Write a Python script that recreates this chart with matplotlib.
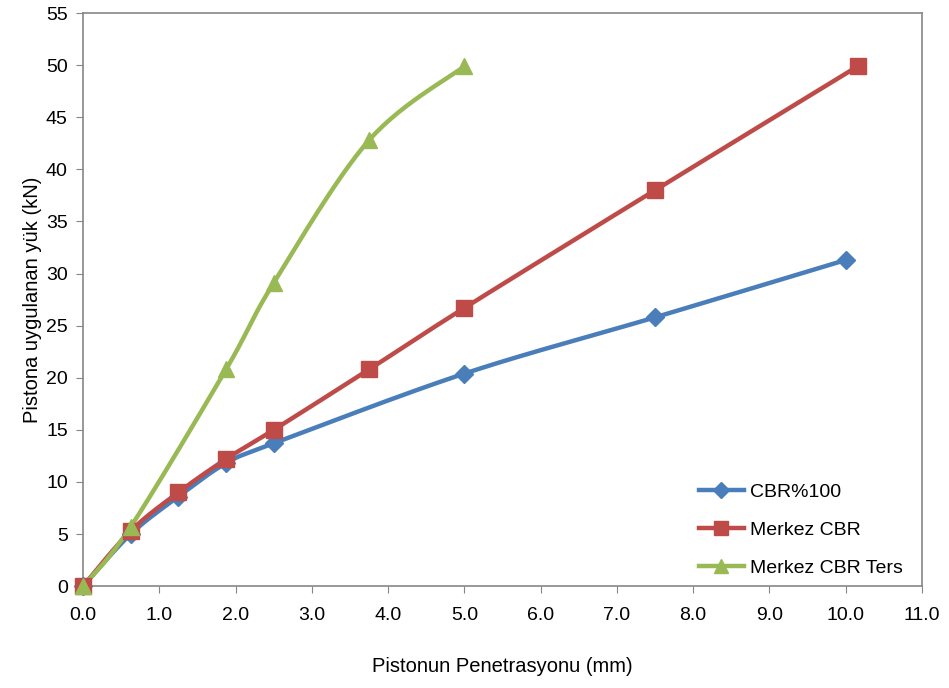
import numpy as np
import matplotlib.pyplot as plt

plt.rcParams['font.family'] = ['Liberation Sans', 'DejaVu Sans']

# penetration (mm) and piston load (kN)
x_cbr100 = [0.0, 0.625, 1.25, 1.875, 2.5, 5.0, 7.5, 10.0]
y_cbr100 = [0.0, 5.0, 8.6, 11.8, 13.7, 20.4, 25.8, 31.3]

x_merkez = [0.0, 0.625, 1.25, 1.875, 2.5, 3.75, 5.0, 7.5, 10.16]
y_merkez = [0.0, 5.3, 9.0, 12.2, 15.0, 20.8, 26.7, 38.0, 49.9]

x_ters = [0.0, 0.625, 1.875, 2.5, 3.75, 5.0]
y_ters = [0.0, 5.7, 20.8, 29.1, 42.8, 49.9]

xticks = np.arange(0, 11.5, 1.0)
yticks = np.arange(0, 56, 5)


def smooth(xs, ys, xr=11.0, yr=55.0, n=30):
    # bezier smoothing like spreadsheet "smoothed line", done in axis-fraction space
    p = np.column_stack([np.asarray(xs) / xr, np.asarray(ys) / yr * 0.68])
    pts = [p[0]]
    for i in range(len(p) - 1):
        p0 = p[i - 1] if i > 0 else p[i]
        p1, p2 = p[i], p[i + 1]
        p3 = p[i + 2] if i + 2 < len(p) else p[i + 1]
        c1 = p1 + (p2 - p0) / 6
        c2 = p2 - (p3 - p1) / 6
        t = np.linspace(0, 1, n)[1:, None]
        seg = ((1 - t) ** 3) * p1 + 3 * ((1 - t) ** 2) * t * c1 + 3 * (1 - t) * t ** 2 * c2 + t ** 3 * p2
        pts.extend(seg)
    pts = np.array(pts)
    return pts[:, 0] * xr, pts[:, 1] / 0.68 * yr


fig = plt.figure(figsize=(9.49, 6.88), dpi=100)
ax = fig.add_axes([0.0875, 0.148, 0.884, 0.833])

series = [
    (x_cbr100, y_cbr100, '#4A7EBB', 'D', 9, 'CBR%100'),
    (x_merkez, y_merkez, '#BE4B48', 's', 11, 'Merkez CBR'),
    (x_ters, y_ters, '#98B954', '^', 11, 'Merkez CBR Ters'),
]
for xs, ys, c, m, ms, lab in series:
    sx, sy = smooth(xs, ys)
    ax.plot(sx, sy, color=c, lw=3.2, solid_capstyle='round', zorder=3)
    ax.plot(xs, ys, linestyle='none', marker=m, ms=ms, color=c, zorder=4, clip_on=False)
    ax.plot([], [], color=c, lw=3.2, marker=m, ms=ms * 0.9, label=lab)

ax.set_xlim(0, 11)
ax.set_ylim(0, 55)
ax.set_xticks(xticks)
ax.set_xticklabels([f'{v:.1f}' for v in xticks])
ax.set_yticks(yticks)
ax.tick_params(direction='out', length=5, color='#868686', labelsize=14, pad=6)
ax.tick_params(axis='x', pad=10)
for s in ax.spines.values():
    s.set_color('#868686')
    s.set_linewidth(1.2)

ax.set_xlabel('Pistonun Penetrasyonu (mm)', fontsize=14.5, labelpad=24)
ax.set_ylabel('Pistona uygulanan yük (kN)', fontsize=14.5, labelpad=3)

ax.legend(loc='lower right', bbox_to_anchor=(1.0, -0.018), frameon=False, fontsize=14,
          handlelength=2.3, labelspacing=1.05, handletextpad=0.3, borderaxespad=0.6)

fig.savefig('out.png', dpi=100)
